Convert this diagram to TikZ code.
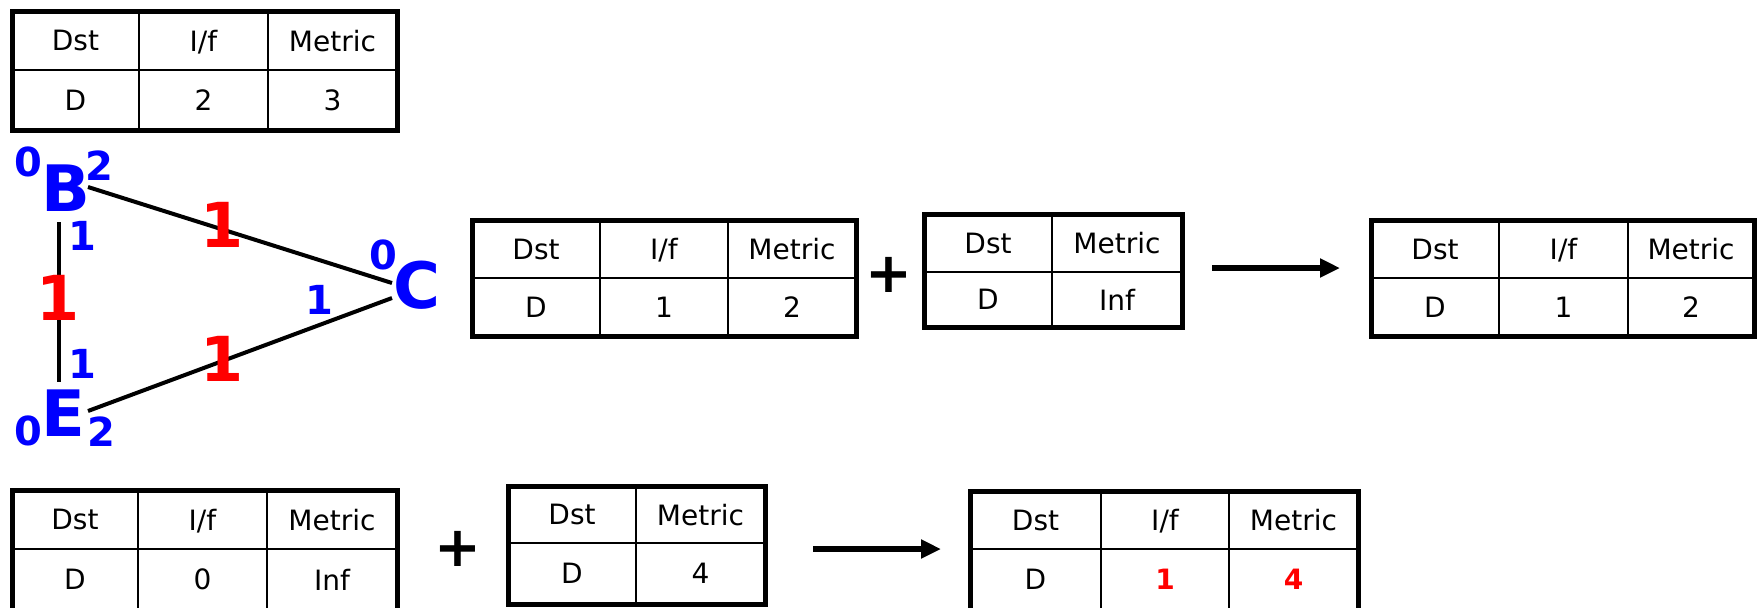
\documentclass[tikz,border=0pt]{standalone}
\usepackage{fontspec}
\setmainfont{DejaVu Sans}
\usetikzlibrary{arrows.meta,fit}
\definecolor{nblue}{RGB}{0,0,255}
\definecolor{nred}{RGB}{255,0,0}
\tikzset{
  inner/.style={line width=1pt,black},
  frame/.style={draw,line width=2.5pt,inner sep=0pt,rectangle},
  cell/.style={font=\fontsize{14}{17}\selectfont,inner sep=0pt,text depth=0pt},
  redcell/.style={cell,font=\bfseries\fontsize{14}{17}\selectfont,text=nred},
  router/.style={font=\bfseries\fontsize{32}{38}\selectfont,text=nblue,inner sep=0pt},
  port/.style={font=\bfseries\fontsize{20}{24}\selectfont,text=nblue,inner sep=0pt},
  cost/.style={font=\bfseries\fontsize{31}{36}\selectfont,text=nred,inner sep=0pt},
  link/.style={line width=2pt,black},
  plussign/.style={font=\bfseries\fontsize{28}{32}\selectfont,inner sep=0pt},
  bigarrow/.style={line width=3pt,-{Triangle[length=10pt,width=9pt]}}
}
% three-column table: name, x0,x1,x2,x3, y0,y1,y2 ; row 2 values in \ca \cb \cc
\newcommand\tabthree[8]{%
  \draw[inner] (#2,#7) -- (#5,#7) (#3,#6) -- (#3,#8) (#4,#6) -- (#4,#8);
  \node[frame,fit={(#2,#6) (#5,#8)}] (#1) {};
  \node[cell] (#1-h1) at ({(#2+#3)/2},{(#6+#7)/2}) {Dst};
  \node[cell] (#1-h2) at ({(#3+#4)/2},{(#6+#7)/2}) {I/f};
  \node[cell] (#1-h3) at ({(#4+#5)/2},{(#6+#7)/2}) {Metric};
  \node[cell] (#1-v1) at ({(#2+#3)/2},{(#7+#8)/2}) {\ca};
  \node[cell] (#1-v2) at ({(#3+#4)/2},{(#7+#8)/2}) {\cb};
  \node[cell] (#1-v3) at ({(#4+#5)/2},{(#7+#8)/2}) {\cc};
}
% two-column table: name, x0,x1,x2, y0,y1,y2 ; row 2 values in \ca \cb
\newcommand\tabtwo[7]{%
  \draw[inner] (#2,#6) -- (#4,#6) (#3,#5) -- (#3,#7);
  \node[frame,fit={(#2,#5) (#4,#7)}] (#1) {};
  \node[cell] (#1-h1) at ({(#2+#3)/2},{(#5+#6)/2}) {Dst};
  \node[cell] (#1-h2) at ({(#3+#4)/2},{(#5+#6)/2}) {Metric};
  \node[cell] (#1-v1) at ({(#2+#3)/2},{(#6+#7)/2}) {\ca};
  \node[cell] (#1-v2) at ({(#3+#4)/2},{(#6+#7)/2}) {\cb};
}
\begin{document}
\begin{tikzpicture}[x=0.5pt,y=-0.5pt]
\clip (0,0) rectangle (1760,607);
\fill[white] (0,0) rectangle (1760,607);

% ---- tables ----
\def\ca{D}\def\cb{2}\def\cc{3}
\tabthree{tB}{12}{139}{268}{397}{11}{70}{130}
\def\ca{D}\def\cb{1}\def\cc{2}
\tabthree{tC}{472}{600}{728}{856}{220}{278}{336}
\def\ca{D}\def\cb{Inf}
\tabtwo{tCin}{924}{1052}{1182}{214}{272}{327}
\def\ca{D}\def\cb{1}\def\cc{2}
\tabthree{tCout}{1371}{1499}{1628}{1754}{220}{278}{336}
\def\ca{D}\def\cb{0}\def\cc{Inf}
\tabthree{tE}{12}{138}{267}{397}{490}{549}{610}
\def\ca{D}\def\cb{4}
\tabtwo{tEin}{508}{636}{765}{486}{543}{604}
\def\ca{D}\def\cb{\textcolor{nred}{\bfseries 1}}\def\cc{\textcolor{nred}{\bfseries 4}}
\tabthree{tEout}{970}{1101}{1229}{1358}{491}{549}{610}

% plus signs and arrows
\node[plussign] (plus1) at (889,275) {+};
\node[plussign] (plus2) at (458,549) {+};
\coordinate (a1s) at (1212,268);
\coordinate (a1e) at (1340,268);
\draw[bigarrow] (a1s) -- (a1e);
\coordinate (a2s) at (813,549);
\coordinate (a2e) at (941,549);
\draw[bigarrow] (a2s) -- (a2e);

% ---- graph ----
\node[router] (B) at (66,188) {B};
\node[router] (C) at (417,285) {C};
\node[router] (E) at (63,413) {E};

\draw[link] ([shift={(22,-1)}]B.center) -- ([shift={(-25,-2)}]C.center);
\draw[link] ([shift={(25,-2)}]E.center) -- ([shift={(-25,13)}]C.center);
\draw[link] ([shift={(-7,34)}]B.center) -- ([shift={(-4,-31)}]E.center);

\node[port] (B0) at (28,162) {0};
\node[port] (B2) at (99,166) {2};
\node[port] (B1) at (82,236) {1};
\node[port] (C0) at (383,255) {0};
\node[port] (C1) at (319,300) {1};
\node[port] (E1) at (82,364) {1};
\node[port] (E0) at (28,431) {0};
\node[port] (E2) at (101,432) {2};

\node[cost] (wBC) at (222,225) {1};
\node[cost] (wBE) at (58,298) {1};
\node[cost] (wEC) at (222,359) {1};
\end{tikzpicture}
\end{document}
